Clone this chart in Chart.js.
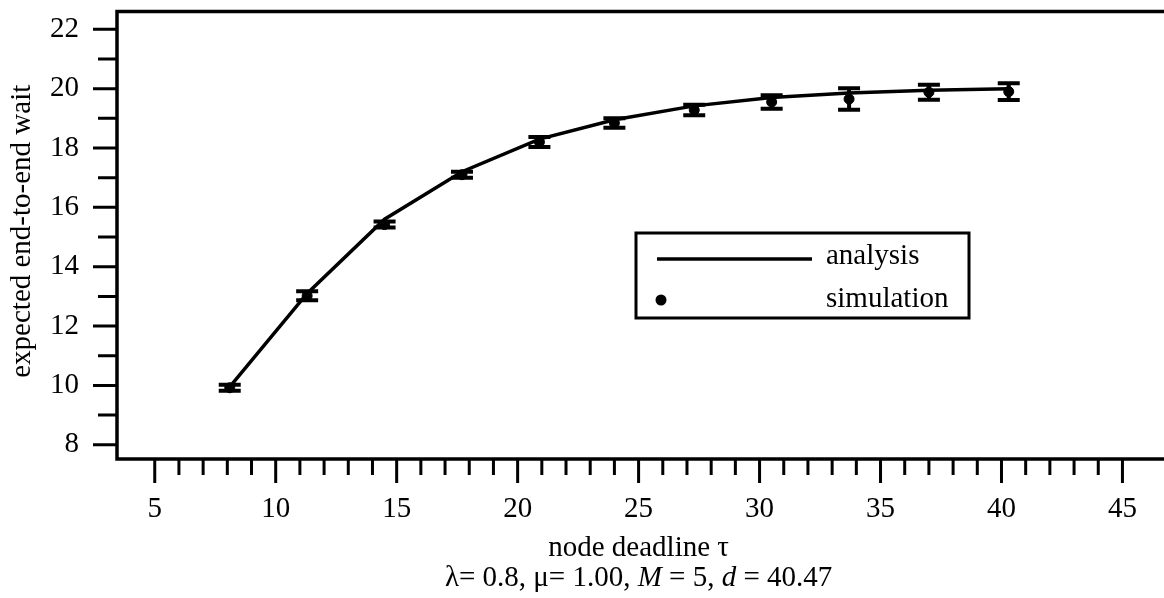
<!DOCTYPE html>
<html>
<head>
<meta charset="utf-8">
<title>expected end-to-end wait vs node deadline</title>
<script src="https://cdn.jsdelivr.net/npm/chart.js@4.4.1/dist/chart.umd.min.js"></script>
<style>
  html, body { margin: 0; padding: 0; background: #fff; overflow: hidden; }
  #wrap { position: relative; width: 1172px; height: 598px; }
</style>
</head>
<body>
<div id="wrap"><canvas id="waitChart"></canvas></div>
<script>
// node deadline tau for each run
const tau = [8.1, 11.3, 14.5, 17.7, 20.9, 24.0, 27.3, 30.5, 33.7, 37.0, 40.3];
// analytic expected end-to-end wait
const analysis = [9.95, 13.1, 15.6, 17.2, 18.3, 18.95, 19.42, 19.7, 19.85, 19.95, 20.0];
// simulated mean and half-width of its confidence interval
const simulation = [9.92, 13.02, 15.42, 17.1, 18.2, 18.84, 19.28, 19.55, 19.65, 19.88, 19.9];
const simErr = [0.1, 0.15, 0.1, 0.1, 0.17, 0.16, 0.18, 0.23, 0.36, 0.25, 0.28];

const xTickLabels = [5, 10, 15, 20, 25, 30, 35, 40, 45];
const yTickLabels = [8, 10, 12, 14, 16, 18, 20, 22];

const xTitle = 'node deadline \u03c4';
const yTitle = 'expected end-to-end wait';
// parameter line, second element marks italic runs
const params = [
  ['\u03bb= 0.8, \u03bc= 1.00, ', false],
  ['M', true],
  [' = 5, ', false],
  ['d', true],
  [' = 40.47', false]
];

const FONT = '"Liberation Serif"';
const FS = 29;

Chart.defaults.font.family = FONT;
Chart.defaults.font.size = FS;
Chart.defaults.color = '#000';

const fontOf = (italic) => Chart.helpers.toFont({ family: FONT, size: FS, style: italic ? 'italic' : 'normal' }).string;

const decorations = {
  id: 'decorations',
  afterDatasetsDraw(chart) {
    const { ctx, scales: { y } } = chart;
    const meta = chart.getDatasetMeta(1);
    ctx.save();
    ctx.strokeStyle = '#000';
    ctx.lineWidth = 4;
    meta.data.forEach((pt, i) => {
      const hi = y.getPixelForValue(simulation[i] + simErr[i]);
      const lo = y.getPixelForValue(simulation[i] - simErr[i]);
      ctx.beginPath();
      ctx.moveTo(pt.x, hi); ctx.lineTo(pt.x, lo);
      ctx.moveTo(pt.x - 11, hi); ctx.lineTo(pt.x + 11, hi);
      ctx.moveTo(pt.x - 11, lo); ctx.lineTo(pt.x + 11, lo);
      ctx.stroke();
    });
    ctx.restore();
  },
  afterDraw(chart) {
    const { ctx, chartArea: a, scales: { x, y } } = chart;
    ctx.save();
    ctx.strokeStyle = '#000';
    ctx.fillStyle = '#000';

    // open frame: left, top and bottom sides
    ctx.lineWidth = 3.5;
    ctx.beginPath();
    ctx.moveTo(chart.width, a.top);
    ctx.lineTo(a.left, a.top);
    ctx.lineTo(a.left, a.bottom);
    ctx.lineTo(chart.width, a.bottom);
    ctx.stroke();

    // outward tick marks, longer at the labelled values
    ctx.lineWidth = 3;
    ctx.beginPath();
    for (let v = 5; v <= 45; v++) {
      const px = x.getPixelForValue(v);
      const len = xTickLabels.includes(v) ? 24 : 16;
      ctx.moveTo(px, a.bottom); ctx.lineTo(px, a.bottom + len);
    }
    for (let v = 8; v <= 22; v++) {
      const py = y.getPixelForValue(v);
      const len = yTickLabels.includes(v) ? 24 : 19;
      ctx.moveTo(a.left, py); ctx.lineTo(a.left - len, py);
    }
    ctx.stroke();

    // tick labels
    ctx.font = fontOf(false);
    ctx.textBaseline = 'middle';
    ctx.textAlign = 'center';
    xTickLabels.forEach(v => ctx.fillText(String(v), x.getPixelForValue(v), a.bottom + 50));
    ctx.textAlign = 'right';
    yTickLabels.forEach(v => ctx.fillText(String(v), a.left - 38, y.getPixelForValue(v)));

    // axis titles
    const midX = x.getPixelForValue(25);
    ctx.textAlign = 'center';
    ctx.fillText(xTitle, midX, 548);
    ctx.save();
    ctx.translate(22, (a.top + a.bottom) / 2 - 4);
    ctx.rotate(-Math.PI / 2);
    ctx.fillText(yTitle, 0, 0);
    ctx.restore();

    // parameter line, M and d in italics
    let total = 0;
    params.forEach(([t, it]) => { ctx.font = fontOf(it); total += ctx.measureText(t).width; });
    let cx = midX - total / 2;
    ctx.textAlign = 'left';
    params.forEach(([t, it]) => {
      ctx.font = fontOf(it);
      ctx.fillText(t, cx, 578);
      cx += ctx.measureText(t).width;
    });

    // legend box
    ctx.lineWidth = 3;
    ctx.strokeRect(636, 233, 333, 85);
    ctx.lineWidth = 3.5;
    ctx.beginPath();
    ctx.moveTo(657, 259); ctx.lineTo(812, 259);
    ctx.stroke();
    ctx.beginPath();
    ctx.arc(661, 300, 5.5, 0, Math.PI * 2);
    ctx.fill();
    ctx.font = fontOf(false);
    ctx.fillText(chart.data.datasets[0].label, 826, 256);
    ctx.fillText(chart.data.datasets[1].label, 826, 299);
    ctx.restore();
  }
};

new Chart(document.getElementById('waitChart'), {
  type: 'line',
  data: {
    datasets: [
      {
        label: 'analysis',
        data: tau.map((t, i) => ({ x: t, y: analysis[i] })),
        borderColor: '#000',
        borderWidth: 3.5,
        pointRadius: 0,
        tension: 0,
        fill: false
      },
      {
        label: 'simulation',
        data: tau.map((t, i) => ({ x: t, y: simulation[i] })),
        showLine: false,
        pointRadius: 5,
        pointBackgroundColor: '#000',
        pointBorderColor: '#000'
      }
    ]
  },
  options: {
    responsive: true,
    maintainAspectRatio: false,
    animation: false,
    devicePixelRatio: 1,
    layout: { padding: { top: 11.5, right: 0, bottom: 139, left: 117 } },
    plugins: {
      legend: { display: false },
      tooltip: { enabled: false }
    },
    scales: {
      x: {
        type: 'linear',
        min: 3.44,
        max: 46.8,
        grid: { display: false, drawTicks: false },
        border: { display: false },
        ticks: { display: false }
      },
      y: {
        type: 'linear',
        min: 7.52,
        max: 22.6,
        grid: { display: false, drawTicks: false },
        border: { display: false },
        ticks: { display: false }
      }
    }
  },
  plugins: [decorations]
});
</script>
</body>
</html>
